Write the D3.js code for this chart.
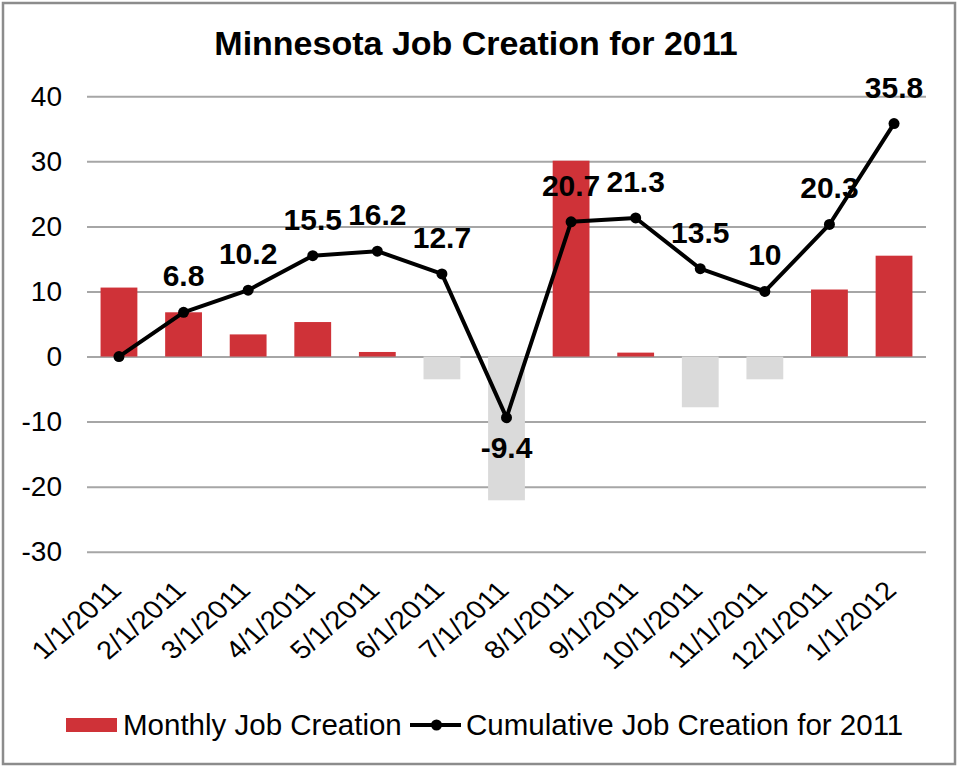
<!DOCTYPE html>
<meta charset="utf-8">
<script src="https://d3js.org/d3.v7.min.js"></script>
<style>
  body { margin: 0; background: #fff; }
  text { font-family: "Liberation Sans", Arial, sans-serif; }
</style>
<svg id="chart" width="958" height="768"></svg>
<script>
// chart data
const dates = ["1/1/2011", "2/1/2011", "3/1/2011", "4/1/2011", "5/1/2011", "6/1/2011",
  "7/1/2011", "8/1/2011", "9/1/2011", "10/1/2011", "11/1/2011", "12/1/2011", "1/1/2012"];
const monthly = [10.6, 6.8, 3.4, 5.3, 0.7, -3.5, -22.1, 30.1, 0.6, -7.8, -3.5, 10.3, 15.5];
const cumulative = [0, 6.8, 10.2, 15.5, 16.2, 12.7, -9.4, 20.7, 21.3, 13.5, 10, 20.3, 35.8];
const yTicks = [-30, -20, -10, 0, 10, 20, 30, 40];

const svg = d3.select("#chart"),
    width = +svg.attr("width"),
    height = +svg.attr("height");

const red = "#cf3238", grey = "#dadada";

// outer frame
svg.append("rect")
    .attr("x", 3).attr("y", 3)
    .attr("width", width - 6).attr("height", height - 7)
    .attr("fill", "#fff")
    .attr("stroke", "#8c8c8c")
    .attr("stroke-width", 2.5);

svg.append("text")
    .attr("x", 476).attr("y", 55)
    .attr("text-anchor", "middle")
    .attr("font-size", 34)
    .attr("font-weight", "bold")
    .text("Minnesota Job Creation for 2011");

// scales
const x = d3.scaleBand()
    .domain(dates)
    .range([87, 926])
    .paddingInner(0.43)
    .paddingOuter(0.21);

const y = d3.scaleLinear()
    .domain([-30, 40])
    .range([551.7, 96.3]);

// gridlines + y labels
const yAxis = svg.append("g")
    .attr("transform", "translate(87,0)")
    .call(d3.axisLeft(y).tickValues(yTicks).tickFormat(d => String(d))
      .tickSize(-(926 - 87)).tickPadding(25));
yAxis.select(".domain").remove();
yAxis.selectAll(".tick line").attr("stroke", "#a6a6a6").attr("stroke-width", 2);
yAxis.selectAll(".tick text")
    .attr("font-size", 28)
    .attr("fill", "#000")
    .attr("font-family", "Liberation Sans, Arial, sans-serif");

// bars
svg.append("g")
    .selectAll("rect")
    .data(monthly)
    .join("rect")
    .attr("x", (d, i) => x(dates[i]))
    .attr("width", x.bandwidth())
    .attr("y", d => y(Math.max(0, d)))
    .attr("height", d => Math.abs(y(d) - y(0)))
    .attr("fill", d => d >= 0 ? red : grey);

// cumulative line
const cx = i => x(dates[i]) + x.bandwidth() / 2;
const line = d3.line()
    .x((d, i) => cx(i))
    .y(d => y(d));

svg.append("path")
    .datum(cumulative)
    .attr("fill", "none")
    .attr("stroke", "#000")
    .attr("stroke-width", 4)
    .attr("stroke-linejoin", "round")
    .attr("d", line);

svg.append("g")
    .selectAll("circle")
    .data(cumulative)
    .join("circle")
    .attr("cx", (d, i) => cx(i))
    .attr("cy", d => y(d))
    .attr("r", 5.5)
    .attr("fill", "#000");

// data labels (first point has none)
svg.append("g")
    .selectAll("text")
    .data(cumulative.slice(1))
    .join("text")
    .attr("x", (d, i) => cx(i + 1))
    .attr("y", d => d < 0 ? y(d) + 40 : y(d) - 26)
    .attr("text-anchor", "middle")
    .attr("font-size", 30)
    .attr("font-weight", "bold")
    .text(d => d);

// x labels, slanted and a bit wide like the original
svg.append("g")
    .selectAll("text")
    .data(dates)
    .join("text")
    .attr("transform", d => `translate(${x(d) + x.bandwidth() / 2 + 4},592) scale(1.15,1) rotate(-45)`)
    .attr("text-anchor", "end")
    .attr("font-size", 25.5)
    .text(d => d);

// legend
const lg = svg.append("g");
lg.append("rect")
    .attr("x", 66).attr("y", 718)
    .attr("width", 51).attr("height", 14)
    .attr("fill", red);
lg.append("text")
    .attr("x", 123).attr("y", 735)
    .attr("font-size", 29.5)
    .text("Monthly Job Creation");
lg.append("line")
    .attr("x1", 410).attr("x2", 461)
    .attr("y1", 725).attr("y2", 725)
    .attr("stroke", "#000").attr("stroke-width", 4);
lg.append("circle")
    .attr("cx", 436.5).attr("cy", 725).attr("r", 5.5)
    .attr("fill", "#000");
lg.append("text")
    .attr("x", 466).attr("y", 735)
    .attr("font-size", 29.5)
    .text("Cumulative Job Creation for 2011");
</script>
